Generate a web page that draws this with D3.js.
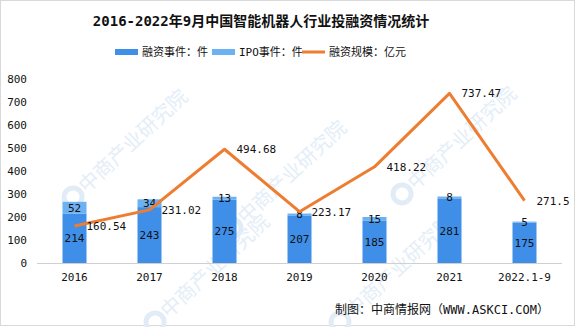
<!DOCTYPE html>
<html>
<head>
<meta charset="utf-8">
<script src="https://cdn.jsdelivr.net/npm/d3@7/dist/d3.min.js"></script>
<style>
  html, body { margin: 0; padding: 0; background: #fff; }
  svg { display: block; }
</style>
</head>
<body>
<svg id="chart" width="576" height="327"></svg>
<script>
// 2016-2022年9月中国智能机器人行业投融资情况统计
const categories = ["2016", "2017", "2018", "2019", "2020", "2021", "2022.1-9"];
const financingEvents = [214, 243, 275, 207, 185, 281, 175];   // 融资事件：件
const ipoEvents = [52, 34, 13, 8, 15, 8, 5];                    // IPO事件：件
const financingScale = [160.54, 231.02, 494.68, 223.17, 418.22, 737.47, 271.5]; // 融资规模：亿元
const yTicks = [0, 100, 200, 300, 400, 500, 600, 700, 800];

const W = 576, H = 327;
const svg = d3.select("#chart");
const numFont = "'DejaVu Sans Mono', 'Noto Sans CJK SC', monospace";
const cjkFont = "'DejaVu Sans Mono', 'Noto Sans CJK SC', sans-serif";

const colDark = "#3f8fe8";
const colLight = "#6cb1f2";
const colLine = "#ed7d31";

// outer frame
svg.append("rect").attr("x", 0.5).attr("y", 0.5).attr("width", W - 2).attr("height", H - 2)
  .attr("fill", "#fff").attr("stroke", "#d9d9d9");

// background watermark
const wm = svg.append("g").attr("pointer-events", "none");
[[133, 141], [292, 172], [462, 138], [215, 266], [400, 266]].forEach(([cx, cy]) => {
  const g = wm.append("g").attr("transform", `translate(${cx},${cy}) rotate(-43)`);
  g.append("circle").attr("cx", -82).attr("cy", 0).attr("r", 9)
    .attr("fill", "none").attr("stroke", "#e1ecf7").attr("stroke-width", 5);
  g.append("text").attr("x", 0).attr("y", 7).attr("text-anchor", "middle")
    .attr("font-family", "'Noto Sans CJK SC', sans-serif").attr("font-size", 20)
    .attr("fill", "#e4eef8").text("中商产业研究院");
});

const x = d3.scaleBand().domain(categories).range([37, 562]).paddingInner(0.68).paddingOuter(0.34);
const y = d3.scaleLinear().domain([0, 800]).range([263, 79]);

// title
svg.append("text").attr("x", 261).attr("y", 26).attr("text-anchor", "middle")
  .attr("font-family", cjkFont).attr("font-size", 14).attr("font-weight", "bold")
  .attr("fill", "#111").text("2016-2022年9月中国智能机器人行业投融资情况统计");

// legend
const legend = svg.append("g").attr("font-family", cjkFont).attr("font-size", 11).attr("fill", "#111");
const legendItems = [
  { x: 115, type: "rect", color: colDark, label: "融资事件：件" },
  { x: 212, type: "rect", color: colLight, label: "IPO事件：件" },
  { x: 302, type: "line", color: colLine, label: "融资规模：亿元" }
];
legendItems.forEach(it => {
  if (it.type === "rect") {
    legend.append("rect").attr("x", it.x).attr("y", 49).attr("width", 23).attr("height", 6).attr("fill", it.color);
  } else {
    legend.append("line").attr("x1", it.x).attr("x2", it.x + 23).attr("y1", 52).attr("y2", 52)
      .attr("stroke", it.color).attr("stroke-width", 3);
  }
  legend.append("text").attr("x", it.x + 27).attr("y", 52).attr("dy", "0.36em").text(it.label);
});

// y axis labels
const yAxis = d3.axisLeft(y).tickValues(yTicks).tickSize(0).tickPadding(0).tickFormat(d3.format("d"));
const gy = svg.append("g").attr("transform", "translate(27,0)").call(yAxis);
gy.select(".domain").remove();
gy.selectAll("text").attr("font-family", numFont).attr("font-size", 11).attr("fill", "#111");

// x axis
const xAxis = d3.axisBottom(x).tickSize(0).tickPadding(10);
const gx = svg.append("g").attr("transform", `translate(0,${y(0)})`).call(xAxis);
gx.select(".domain").attr("stroke", "#d0d0d0").attr("d", `M37,0.5H562`);
gx.selectAll("text").attr("font-family", numFont).attr("font-size", 11).attr("fill", "#111");

// stacked bars
const rows = categories.map((c, i) => ({ c, fin: financingEvents[i], ipo: ipoEvents[i] }));
const bars = svg.append("g");
bars.selectAll("rect.fin").data(rows).join("rect").attr("class", "fin")
  .attr("x", d => x(d.c)).attr("width", x.bandwidth())
  .attr("y", d => y(d.fin)).attr("height", d => y(0) - y(d.fin)).attr("fill", colDark);
bars.selectAll("rect.ipo").data(rows).join("rect").attr("class", "ipo")
  .attr("x", d => x(d.c)).attr("width", x.bandwidth())
  .attr("y", d => y(d.fin + d.ipo)).attr("height", d => y(d.fin) - y(d.fin + d.ipo)).attr("fill", colLight);

// bar value labels
const lbl = svg.append("g").attr("font-family", numFont).attr("font-size", 11).attr("fill", "#111")
  .attr("text-anchor", "middle");
lbl.selectAll("text.fin").data(rows).join("text").attr("class", "fin")
  .attr("x", d => x(d.c) + x.bandwidth() / 2).attr("y", d => (y(0) + y(d.fin)) / 2).attr("dy", "0.36em")
  .text(d => d.fin);
lbl.selectAll("text.ipo").data(rows).join("text").attr("class", "ipo")
  .attr("x", d => x(d.c) + x.bandwidth() / 2).attr("y", d => (y(d.fin) + y(d.fin + d.ipo)) / 2).attr("dy", "0.36em")
  .text(d => d.ipo);

// financing scale line
const pts = categories.map((c, i) => ({ c, v: financingScale[i] }));
const line = d3.line().x(d => x(d.c) + x.bandwidth() / 2).y(d => y(d.v));
svg.append("path").datum(pts).attr("d", line).attr("fill", "none")
  .attr("stroke", colLine).attr("stroke-width", 3).attr("stroke-linejoin", "round");

svg.append("g").attr("font-family", numFont).attr("font-size", 11).attr("fill", "#111")
  .selectAll("text").data(pts).join("text")
  .attr("x", d => x(d.c) + x.bandwidth() / 2 + 12).attr("y", d => y(d.v)).attr("dy", "0.36em")
  .text(d => d.v);

// source note
svg.append("text").attr("x", 549).attr("y", 310).attr("dy", "0.36em").attr("text-anchor", "end")
  .attr("font-family", cjkFont).attr("font-size", 12).attr("fill", "#111")
  .text("制图：中商情报网（WWW.ASKCI.COM）");
</script>
</body>
</html>
